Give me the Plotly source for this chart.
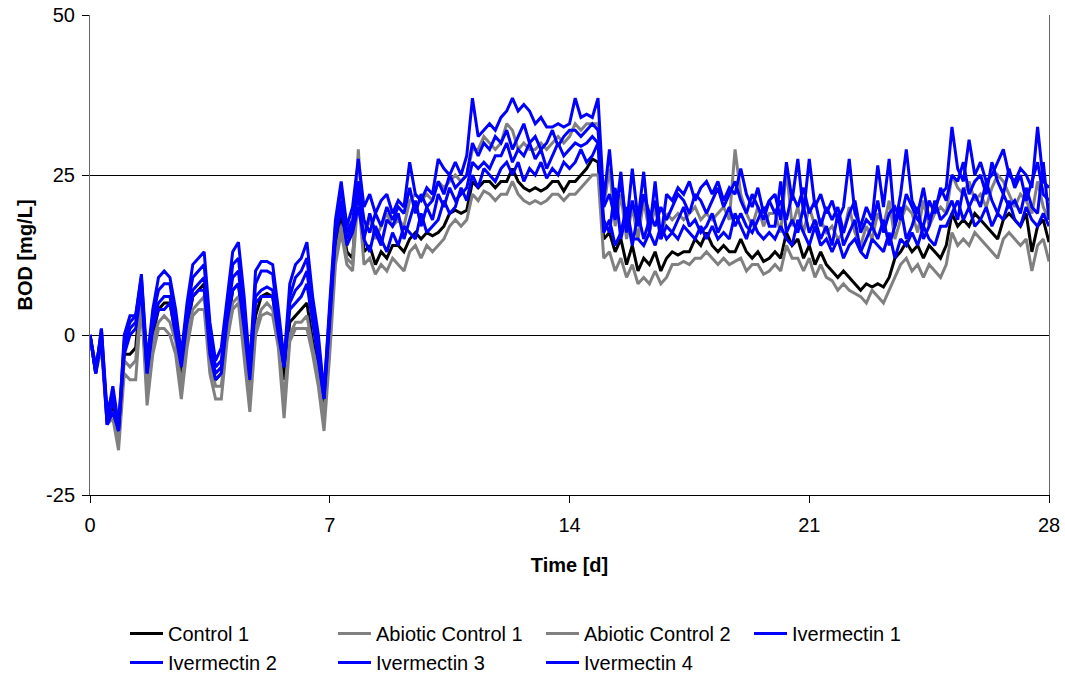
import plotly.graph_objects as go

# BOD readings, one value every 4 hours (6 per day) from day 0 to day 28
SAMPLES_PER_DAY = 6

control_1 = [
    0, -5, -1, -13, -11, -15,
    -3, -3, -2, 8, -7, 0,
    4, 5, 5, 0, -7, 1,
    6, 7, 8, -3, -7, -6,
    1, 7, 8, 0, -9, 3,
    6, 6.5, 6, 0, -7, 2,
    3, 4, 5, -1, -5, -11,
    0, 14, 19, 13, 12, 24,
    13, 14, 11, 13, 12, 14,
    14, 13, 15, 16, 15, 16,
    15.5, 16, 17, 19, 19.5, 19,
    19.5, 24, 23, 24, 24, 23,
    24, 24, 26, 24, 23, 22.5,
    23, 22.5, 23, 24, 24, 22.5,
    24, 24, 25, 26, 27.5, 27,
    15, 16, 13, 15, 11, 14,
    10, 12, 11, 13, 10, 12,
    13, 12.5, 13, 13, 15, 14,
    16, 14, 13, 14, 13, 13,
    15, 13, 12, 13, 11.5, 12,
    13, 12, 16, 14, 15, 12,
    14, 11, 13, 11, 10, 9,
    10, 9, 8, 7, 8, 7.5,
    8, 7.5, 9, 12, 13, 14.5,
    13, 14, 12, 14, 13, 12,
    14, 19, 17, 18, 17, 19,
    18, 17, 16, 15, 18, 19,
    18, 17, 19, 13, 17, 18,
    14.5,
]

abiotic_control_1 = [
    0, -6, -2, -14, -13, -18,
    -6, -7, -7, 5, -11, -3,
    1, 1, 0, -3, -10, -2,
    3, 4, 4, -6, -10, -10,
    -1, 4, 5, -3, -12, 0,
    3, 3.5, 3, -2, -13, -1,
    1, 1, 1, -3, -8, -15,
    -3, 11, 16, 11, 10, 22,
    11, 12, 9.5, 11, 10, 12,
    11, 10, 13, 14, 12, 14,
    13, 14, 15, 17, 18, 17,
    18, 22, 21, 22.5, 22, 21,
    22, 22, 24, 22, 21, 20.5,
    21, 20.5, 21, 22, 22, 21,
    22, 22, 23, 24, 25, 25,
    12, 13, 10, 12, 9, 11,
    8, 9, 8, 10, 8, 9,
    11, 11, 11.5, 11, 12, 12,
    13, 12, 11, 12, 11, 11.5,
    12, 10, 11, 11, 9.5, 10,
    11, 10, 14, 12, 12, 10,
    12, 9, 11, 9, 8.5, 7,
    8, 7, 6.5, 6, 5, 7,
    6, 5, 7, 9, 11, 12,
    10, 11, 9, 11, 10, 9,
    11, 16, 14, 15, 14, 16,
    15, 14, 13, 12, 15, 16,
    15, 14, 15, 10, 14, 15,
    11.5,
]

abiotic_control_2 = [
    0, -5, -1, -13, -12, -16,
    -4, -5, -4, 6, -9, -1,
    2, 3, 2, -1, -8, 0,
    4, 5, 6, -4, -8, -8,
    0, 5, 6, -1, -10, 1,
    4, 5, 4, -1, -10, 0,
    2, 2, 3, -2, -6, -13,
    -1, 12, 17, 12, 11, 29,
    16, 18, 15, 17, 19, 17,
    18, 17, 21, 22, 21, 22,
    21, 24, 23, 24, 25, 24,
    25, 29, 29, 31, 30, 29,
    30, 33, 32, 29, 30, 29,
    29, 30, 29, 30, 31, 30,
    31, 33, 32, 33, 33, 33,
    20, 26, 17, 22, 15, 20,
    15, 21, 16, 20, 15, 19,
    18, 19, 18, 19, 20, 18,
    19, 18, 19, 20, 18, 29,
    22, 19, 17, 20, 17, 19,
    19, 16, 26, 17, 20, 16,
    20, 17, 18, 16, 17, 15,
    16, 20, 16, 14, 17, 15,
    19, 17, 21, 15, 18, 20,
    19, 16, 21, 17, 19, 20,
    19, 25, 23, 22, 24, 21,
    22, 20, 23, 25, 24, 22,
    20, 22, 21, 19, 24, 20,
    18,
]

ivermectin_1 = [
    0, -6, 1, -12, -9, -15,
    0, 3, 3, 9.5, -4, 4,
    9, 10, 9, 4, -3, 5,
    11, 12, 13, 2, -4, -2,
    6, 13, 14.5, 6, -5, 10,
    11.5, 11.5, 11, 4, -4, 8,
    11, 12, 14.5, 6, 0, -9,
    5, 18, 24, 17, 20, 27.5,
    20, 22, 19, 21, 22, 19,
    21, 20, 27, 22, 21, 23,
    22, 27.5, 26, 25, 27, 25,
    28, 37, 31, 32, 33, 32,
    34, 35, 37, 35, 36, 35,
    33, 34, 32.5, 32.5, 33, 32.5,
    33, 37, 34, 34.5, 34, 37,
    21, 29, 19, 24, 17, 26,
    18, 25.5, 16, 24, 15, 22,
    21, 23, 22, 24, 21, 23,
    24, 22, 24, 21, 23, 22,
    26, 22, 20, 23, 19, 21,
    22, 18, 27, 21, 27.5, 19,
    27.5, 20, 22, 19, 21, 18,
    20, 27.5, 19, 17, 20, 18,
    26.5, 20, 27.5, 17, 22, 29,
    21, 19, 23, 18, 20, 22,
    23, 32.5, 26, 24, 30.5, 25,
    27, 24, 25, 27, 29, 25,
    24, 26, 25, 23, 32.5, 24,
    23,
]

ivermectin_2 = [
    0, -6, 1, -13, -8, -14,
    -1, 2, 3, 9, -5, 3,
    7, 8, 8, 2, -4, 4,
    9, 10, 11, 0, -5, -4,
    4, 11, 12, 4, -5, 8,
    10, 10, 9.5, 2, -5, 6,
    9, 10, 12, 4, -2, -9,
    4, 17, 23, 16, 18, 24,
    18, 16, 19, 17, 20, 18,
    20, 19, 23, 19, 22, 20,
    21, 24, 22, 25, 23, 24,
    25, 30, 28, 30, 29, 31,
    30, 32, 29, 31, 33, 30,
    31, 29, 30, 32, 29.5, 31,
    32, 32, 31, 32, 33, 32,
    20, 22, 18, 25.5, 16, 21,
    17, 22, 19, 17, 20, 18,
    20, 22, 21, 19, 22, 21,
    19, 21, 23, 20, 22, 24,
    21, 19, 22, 20, 18, 21,
    19, 21, 18, 22, 20, 23,
    19, 21, 17, 20, 18, 20,
    16, 19, 21, 16, 18, 17,
    21, 16, 19, 20, 18, 22,
    20, 18, 17, 21, 19, 23,
    21, 25, 24, 27, 22, 24,
    25, 22, 27, 24, 22, 26,
    23, 25, 21, 24, 27, 22,
    21,
]

ivermectin_3 = [
    0, -5, 0, -14, -10, -15,
    -2, 1, 2, 8, -6, 2,
    5, 6, 6, 1, -4, 3,
    7, 8, 9, -2, -6, -5,
    3, 9, 10, 2, -6, 6,
    7, 7.5, 7, 1, -5, 5,
    7, 8, 10, 3, -3, -10,
    3, 16, 21, 15, 17, 22,
    15, 19, 16, 14, 18, 17,
    19, 15, 18, 21, 17, 20,
    18, 22, 20, 23, 21, 22,
    23, 27, 26, 27, 26, 28,
    28, 30, 27, 29, 28, 30,
    27.5, 29, 26, 28, 30, 28,
    29, 30, 29.5, 30, 31, 30,
    18, 16, 23, 15, 19, 14,
    19, 15, 18, 21, 15, 17,
    16, 18, 20, 17, 18, 16,
    17, 19, 16, 18, 20, 17,
    19, 17, 16, 18, 20, 17,
    17, 24, 16, 18, 16, 20,
    16, 18, 15, 17, 14, 19,
    14, 16, 18, 13, 15, 17,
    15, 18, 14, 17, 20, 15,
    17, 20, 15, 17, 21, 18,
    19, 21, 18, 23, 20, 22,
    20, 24, 21, 19, 22, 20,
    21, 19, 23, 20, 19, 27,
    18,
]

ivermectin_4 = [
    0, -6, -1, -14, -12, -15,
    -3, 0, 1, 7, -6, 1,
    4, 4, 5, 0, -5, 2,
    6, 7, 7, -3, -7, -6,
    2, 7, 8, 1, -7, 5,
    6, 6, 6, 0, -5, 4,
    5, 6, 8, 2, -4, -10,
    2, 15, 20, 14, 16, 20,
    15, 13, 17, 15, 13, 16,
    14, 17, 16, 15, 19, 16,
    17, 18, 21, 19, 20, 23,
    21, 25, 23, 26, 25, 24,
    26, 27, 25, 27, 24, 26,
    25, 27, 24.5, 26, 25, 27,
    26, 27, 29, 27, 28, 30,
    16, 18, 14, 16, 20, 15,
    15, 14, 16, 14, 17, 15,
    16, 15, 17, 16, 15, 17,
    15, 17, 15, 16, 15, 19,
    17, 15, 18, 16, 15, 16,
    15, 17, 15, 14, 18, 16,
    14, 17, 14, 15, 13, 15,
    12, 14, 15, 13, 12, 15,
    14, 13, 16, 12, 15, 14,
    16, 14, 17, 15, 14, 17,
    17, 19, 21, 18, 20, 17,
    18, 20, 17, 19, 18, 21,
    18, 17, 20, 18, 17, 19,
    17,
]

series_names = ["Control 1", "Abiotic Control 1", "Abiotic Control 2",
                "Ivermectin 1", "Ivermectin 2", "Ivermectin 3", "Ivermectin 4"]
series_values = [control_1, abiotic_control_1, abiotic_control_2,
                 ivermectin_1, ivermectin_2, ivermectin_3, ivermectin_4]
series_colors = ["#000000", "#808080", "#808080",
                 "#0000FF", "#0000FF", "#0000FF", "#0000FF"]

x_ticks = [0, 7, 14, 21, 28]
y_ticks = [-25, 0, 25, 50]
y_tick_labels = ["-25", "0", "25", "50"]

fig = go.Figure()
for name, values, color in zip(series_names, series_values, series_colors):
    days = [i / SAMPLES_PER_DAY for i in range(len(values))]
    fig.add_trace(go.Scatter(
        x=days, y=values, name=name, mode="lines",
        line=dict(color=color, width=3),
    ))

fig.update_layout(
    width=1065, height=679,
    margin=dict(l=90, r=16, t=15, b=184),
    plot_bgcolor="white", paper_bgcolor="white",
    font=dict(family="Liberation Sans, Arial, sans-serif", size=20, color="black"),
    legend=dict(
        orientation="h", xref="container", yref="container",
        x=125 / 1065, y=1 - 614 / 679, xanchor="left", yanchor="top",
        entrywidth=160, entrywidthmode="pixels",
        font=dict(size=20), traceorder="normal", itemwidth=33,
    ),
)

fig.update_xaxes(
    range=[0, 28], tickvals=x_ticks, ticks="outside", ticklen=7,
    tickcolor="black", showline=True, linecolor="black", linewidth=1,
    showgrid=False, zeroline=False, automargin=False, ticklabelstandoff=5,
    title=dict(text="<b>Time [d]</b>", font=dict(size=20), standoff=22),
)
fig.update_yaxes(
    range=[-25, 50], tickvals=y_ticks, ticktext=y_tick_labels,
    ticks="outside", ticklen=7,
    tickcolor="black", showline=True, linecolor="#666666", linewidth=1,
    mirror=True, showgrid=True, gridcolor="black", gridwidth=1,
    zeroline=False, automargin=False, ticklabelstandoff=3,
    title=dict(text="<b>BOD [mg/L]</b>", font=dict(size=20), standoff=8),
)

fig.write_html("out.html")
